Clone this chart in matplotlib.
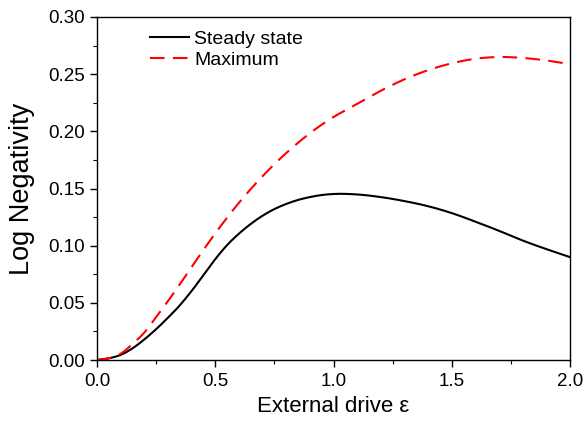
import numpy as np
import matplotlib
matplotlib.use("Agg")
import matplotlib.pyplot as plt

plt.rcParams['font.family'] = ['Liberation Sans', 'DejaVu Sans']

# drive values and the two curves
drive = [0.0, 0.05, 0.1, 0.15, 0.2, 0.25, 0.3, 0.35, 0.4, 0.45, 0.5, 0.55, 0.6, 0.65,
         0.7, 0.75, 0.8, 0.85, 0.9, 0.95, 1.0, 1.1, 1.2, 1.3, 1.4, 1.5, 1.6, 1.7, 1.8,
         1.9, 2.0]
steady = [0.0, 0.0015, 0.0045, 0.0102, 0.0180, 0.0270, 0.0370, 0.0478, 0.0604, 0.0742,
          0.0882, 0.1005, 0.1105, 0.1190, 0.1262, 0.1320, 0.1365, 0.1400, 0.1425, 0.1443,
          0.1452, 0.1448, 0.1425, 0.1390, 0.1345, 0.1285, 0.1210, 0.1130, 0.1045, 0.0970,
          0.0900]
maximum = [0.0, 0.0015, 0.0055, 0.0140, 0.0240, 0.0375, 0.0515, 0.0662, 0.0813, 0.0963,
           0.1108, 0.1245, 0.1375, 0.1495, 0.1608, 0.1713, 0.1810, 0.1900, 0.1983, 0.2058,
           0.2125, 0.2240, 0.2355, 0.2455, 0.2535, 0.2595, 0.2635, 0.2650, 0.2642, 0.2620,
           0.2587]
xticks = [0.0, 0.5, 1.0, 1.5, 2.0]
yticks = [0.00, 0.05, 0.10, 0.15, 0.20, 0.25, 0.30]


def smooth(x, y, n=400):
    # cubic hermite through the read points so the curves come out round
    x = np.asarray(x)
    y = np.asarray(y)
    xs = np.linspace(x[0], x[-1], n)
    m = np.gradient(y, x)
    i = np.clip(np.searchsorted(x, xs, side='right') - 1, 0, len(x) - 2)
    h = x[i + 1] - x[i]
    t = (xs - x[i]) / h
    h00 = 2 * t**3 - 3 * t**2 + 1
    h10 = t**3 - 2 * t**2 + t
    h01 = -2 * t**3 + 3 * t**2
    h11 = t**3 - t**2
    ys = h00 * y[i] + h10 * h * m[i] + h01 * y[i + 1] + h11 * h * m[i + 1]
    return xs, ys


fig = plt.figure(figsize=(5.83, 4.25), dpi=100)
ax = fig.add_axes([0.1664, 0.1529, 0.8113, 0.8071])

xs, ys = smooth(drive, steady)
ax.plot(xs, ys, color='black', lw=1.5, label='Steady state')
xs, ym = smooth(drive, maximum)
ax.plot(xs, ym, color='red', lw=1.5, dashes=(7, 4), label='Maximum')

ax.set_xlim(0, 2.0)
ax.set_ylim(0, 0.30)
ax.set_xticks(xticks)
ax.set_xticklabels(['%.1f' % v for v in xticks])
ax.set_yticks(yticks)
ax.set_yticklabels(['%.2f' % v for v in yticks])
ax.set_xticks(np.arange(0.25, 2.0, 0.5), minor=True)
ax.set_yticks(np.arange(0.025, 0.30, 0.05), minor=True)
ax.tick_params(which='major', direction='out', length=5, width=1, labelsize=13.5, pad=4)
ax.tick_params(which='minor', direction='out', length=3, width=0.8)
for sp in ax.spines.values():
    sp.set_linewidth(1.0)

ax.set_xlabel('External drive ε', fontsize=16, labelpad=5)
ax.set_ylabel('Log Negativity', fontsize=19.5, labelpad=9)

ax.legend(loc='upper left', bbox_to_anchor=(0.095, 0.985), frameon=False, fontsize=14,
          handlelength=2.0, handletextpad=0.3, labelspacing=0.2, borderaxespad=0)

fig.savefig('out.png', dpi=100)
